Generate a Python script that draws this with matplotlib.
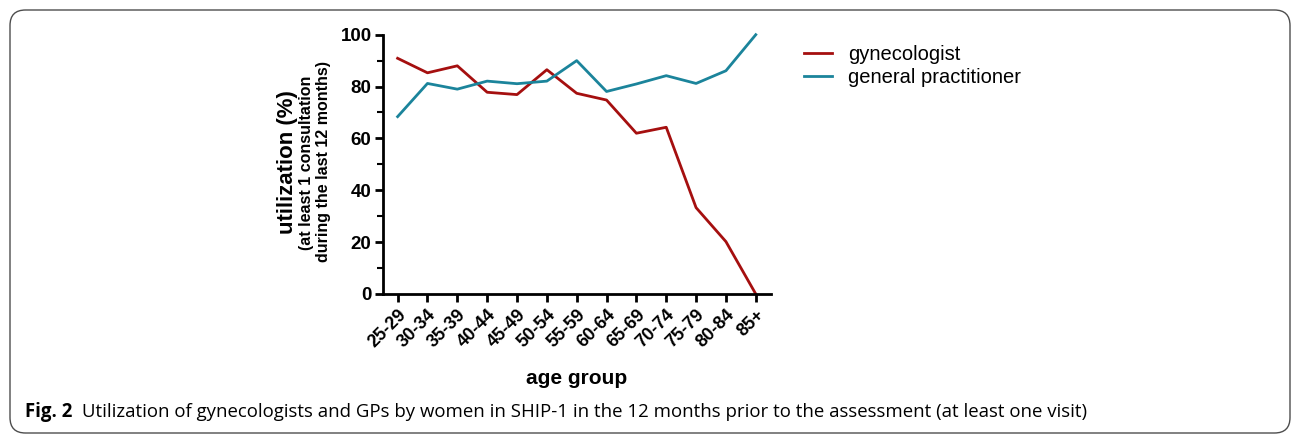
import matplotlib
matplotlib.use("Agg")
import matplotlib.pyplot as plt
from matplotlib.patches import FancyBboxPatch
from matplotlib.ticker import MultipleLocator

age_groups = ["25-29", "30-34", "35-39", "40-44", "45-49", "50-54", "55-59",
              "60-64", "65-69", "70-74", "75-79", "80-84", "85+"]
gynecologist = [90.9, 85.3, 88.0, 77.8, 76.9, 86.5, 77.4, 74.8, 62.0, 64.3, 33.3, 20.2, 0.0]
general_practitioner = [68.4, 81.2, 79.0, 82.1, 81.1, 82.1, 90.0, 78.1, 81.0, 84.2, 81.2, 86.1, 100.0]
y_ticks = [0, 20, 40, 60, 80, 100]

RED = "#a50f0f"
TEAL = "#1b849b"

plt.rcParams['font.family'] = ['Liberation Sans', 'DejaVu Sans']

W, H = 1293, 434
fig = plt.figure(figsize=(W / 100, H / 100), dpi=100)

# frame
frame = FancyBboxPatch((10 / W, 1 - 433 / H), (1290 - 10) / W, (433 - 10) / H,
                       boxstyle="round,pad=0,rounding_size=0.012",
                       transform=fig.transFigure, fill=False,
                       edgecolor="#4d4d4d", linewidth=1.0,
                       mutation_aspect=W / H)
fig.patches.append(frame)

ax = fig.add_axes([382.7 / W, 1 - 294 / H, (770.7 - 382.7) / W, (294 - 34.7) / H])
x = list(range(len(age_groups)))
ax.plot(x, gynecologist, color=RED, lw=2.0, label="gynecologist", clip_on=False)
ax.plot(x, general_practitioner, color=TEAL, lw=2.0, label="general practitioner", clip_on=False)

ax.set_xlim(-0.5, 12.5)
ax.set_ylim(0, 100)
ax.set_xticks(x)
ax.set_xticklabels(age_groups, rotation=45, ha="right", rotation_mode="anchor",
                   fontsize=13, fontweight="bold")
ax.set_yticks(y_ticks)
ax.set_yticklabels([str(v) for v in y_ticks], fontsize=13.5, fontweight="bold")
ax.yaxis.set_minor_locator(MultipleLocator(10))
for s in ["top", "right"]:
    ax.spines[s].set_visible(False)
for s in ["left", "bottom"]:
    ax.spines[s].set_linewidth(2.0)
ax.tick_params(axis="both", which="major", direction="out", length=6, width=2.0, pad=2)
ax.tick_params(axis="y", which="minor", direction="out", length=4, width=1.5)
ax.tick_params(axis="x", pad=3)

ax.set_xlabel("age group", fontsize=15, fontweight="bold", labelpad=13)

# y labels (three lines)
fig.text(287 / W, 1 - 162 / H, "utilization (%)", rotation=90, ha="center", va="center",
         fontsize=16, fontweight="bold")
fig.text(306 / W, 1 - 163 / H, "(at least 1 consultation", rotation=90, ha="center", va="center",
         fontsize=11.5, fontweight="bold")
fig.text(323.5 / W, 1 - 162 / H, "during the last 12 months)", rotation=90, ha="center", va="center",
         fontsize=11.5, fontweight="bold")

leg = ax.legend(loc="upper left", bbox_to_anchor=(804 / W, 1 - 45 / H),
                bbox_transform=fig.transFigure, frameon=False, fontsize=14.5,
                handlelength=1.4, handletextpad=0.8, labelspacing=0.2, borderpad=0,
                borderaxespad=0)

fig.text(25 / W, 1 - 412 / H, "Fig. 2", fontsize=13.4, fontweight="bold",
         family=["Open Sans", "DejaVu Sans"], va="center", ha="left")
fig.text(82 / W, 1 - 412 / H,
         "Utilization of gynecologists and GPs by women in SHIP-1 in the 12 months prior to the assessment (at least one visit)",
         fontsize=13.4, family=["Open Sans", "DejaVu Sans"], va="center", ha="left")

fig.savefig("out.png", dpi=100)
